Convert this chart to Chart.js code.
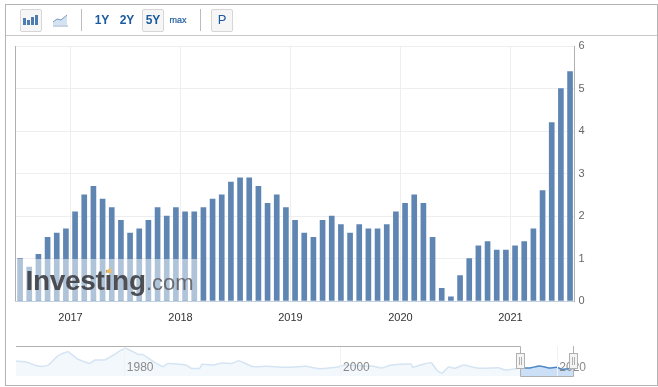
<!DOCTYPE html>
<html><head><meta charset="utf-8">
<script src="https://cdn.jsdelivr.net/npm/chart.js@4"></script>
<style>
html,body{margin:0;padding:0;background:#fff;overflow:hidden;font-family:"Liberation Sans",Arial,sans-serif}
#stage{position:relative;width:658px;height:387px;overflow:hidden}
canvas{position:absolute}
#frame{position:absolute;left:5px;top:4px;width:651px;height:380px;border:1px solid #b4b4b4;box-sizing:content-box}
#tbline{position:absolute;left:6px;top:35px;width:651px;height:1px;background:#c8c8c8}
.btn{position:absolute;top:9px;width:20px;height:21px;background:#f6f6f6;border:1px solid #d6d6d6;border-radius:2px}
.sep{position:absolute;top:9px;width:1px;height:22px;background:#bcbcbc}
.t{position:absolute;color:#1a5a9e;font-weight:bold;font-size:12px;line-height:14px;top:13px;text-align:center;width:22px}
svg{position:absolute}
</style></head><body>
<div id="stage">
<canvas id="main" width="658" height="387" style="left:0;top:0"></canvas>
<canvas id="nav" width="558" height="30" style="left:16px;top:346px"></canvas>
<canvas id="navTop" width="658" height="387" style="left:0;top:0"></canvas>
<div id="frame"></div><div id="tbline"></div>
<div class="btn" style="left:20px"></div>
<svg style="left:23px;top:15px" width="16" height="10"><g fill="#4f7cb0"><rect x="0" y="3" width="3" height="7"/><rect x="4" y="5" width="3" height="5"/><rect x="8" y="2" width="3" height="8"/><rect x="12" y="0" width="3" height="10"/></g></svg>
<svg style="left:52px;top:14px" width="17" height="13"><path d="M1 8 L5 5 L9 6 L15 1 V11 H1Z" fill="#d5e2f0"/><path d="M1 8 L5 5 L9 6 L15 1" fill="none" stroke="#6f97c4"/><path d="M1 12H16" stroke="#8fa9c6"/></svg>
<div class="sep" style="left:81px"></div>
<div class="t" style="left:91px">1Y</div>
<div class="t" style="left:116px">2Y</div>
<div class="btn" style="left:142px"></div>
<div class="t" style="left:142px">5Y</div>
<div class="t" style="left:167px;font-size:9px;font-weight:normal;-webkit-text-stroke:.2px #1a5a9e">max</div>
<div class="sep" style="left:200px"></div>
<div class="btn" style="left:211px"></div>
<div class="t" style="left:211px;font-weight:normal;font-size:13px">P</div>
</div>
<script>
const months = ["2016-07","2016-08","2016-09","2016-10","2016-11","2016-12",
"2017-01","2017-02","2017-03","2017-04","2017-05","2017-06","2017-07","2017-08","2017-09","2017-10","2017-11","2017-12",
"2018-01","2018-02","2018-03","2018-04","2018-05","2018-06","2018-07","2018-08","2018-09","2018-10","2018-11","2018-12",
"2019-01","2019-02","2019-03","2019-04","2019-05","2019-06","2019-07","2019-08","2019-09","2019-10","2019-11","2019-12",
"2020-01","2020-02","2020-03","2020-04","2020-05","2020-06","2020-07","2020-08","2020-09","2020-10","2020-11","2020-12",
"2021-01","2021-02","2021-03","2021-04","2021-05","2021-06","2021-07"];
const values = [1.0,0.8,1.1,1.5,1.6,1.7,2.1,2.5,2.7,2.4,2.2,1.9,1.6,1.7,1.9,2.2,2.0,2.2,2.1,2.1,2.2,2.4,2.5,2.8,2.9,2.9,2.7,2.3,2.5,2.2,1.9,1.6,1.5,1.9,2.0,1.8,1.6,1.8,1.7,1.7,1.8,2.1,2.3,2.5,2.3,1.5,0.3,0.1,0.6,1.0,1.3,1.4,1.2,1.2,1.3,1.4,1.7,2.6,4.2,5.0,5.4];
const yearTicks = [2017,2018,2019,2020,2021];
const valueTicks = [0,1,2,3,4,5,6];
const navYears = [1970,1971,1971.9,1972.5,1973,1973.9,1974.8,1975.7,1976.8,1977.3,1978.2,1979.1,1980.1,1981.3,1981.7,1982.7,1983.6,1984,1985.7,1986.2,1987,1987.2,1988.2,1989.1,1990,1990.6,1991.9,1993.1,1995,1996.8,1998,1999.6,2000.5,2002,2002.9,2003.8,2004.6,2005.5,2006.5,2006.7,2007.5,2008.4,2008.9,2009.4,2010,2010.6,2011.4,2012.5,2013.4,2014.6,2015.2,2016.6];
const navValues = [5.1,4.2,1.7,1.2,2.2,9.1,12,6.6,3.4,5.9,5.9,10,14.5,10,10,4.7,1,3.2,2.2,-0.2,-0.2,2.7,2.2,3.7,3.4,5.4,1,1.2,0.5,1.2,-0.5,0.5,2.2,1.5,1.5,0,2,2.7,2.9,0.5,2.4,3.9,-1.5,-3.9,0.7,-0.2,2.2,0.2,-0.2,0.2,-1.5,0];
const selYears = [2016.6,2017.5,2018.4,2019.3,2020,2020.5,2021.6];
const selValues = [0,0,1.5,0,0.5,-1,0];
const navLabels = [1980,2000,2020];

const toYear = m => { const [y,mo] = m.split("-").map(Number); return y + (mo - 0.5) / 12; };
const FONT = '"Liberation Sans", Arial, sans-serif';

const mainDecor = { id:'mainDecor',
  beforeDatasetsDraw(c){ const a=c.chartArea,x=c.ctx; x.save(); x.strokeStyle='#b0b0b0'; x.lineWidth=1;
    x.beginPath(); x.moveTo(a.left,a.top); x.lineTo(a.left,a.bottom); x.stroke(); x.restore(); },
  afterDatasetsDraw(c){ const x=c.ctx; x.save();
    x.fillStyle='rgba(255,255,255,0.5)'; x.fillRect(16,259,181,41.5);
    x.textBaseline='alphabetic'; x.textAlign='left';
    x.fillStyle='rgba(62,62,66,0.9)'; x.font='bold 28px '+FONT; x.letterSpacing='-0.3px';
    x.fillText('Investing',25.5,289.5);
    x.letterSpacing='0px';
    x.fillStyle='rgba(90,90,95,0.85)'; x.font='22px '+FONT; x.fillText('.com',146,289.5);
    x.fillStyle='#f5b94f'; x.beginPath(); x.moveTo(107,270); x.lineTo(111,268); x.lineTo(111,273); x.lineTo(107,273); x.fill();
    x.restore(); } };

new Chart(document.getElementById('main'),{
  type:'bar',
  data:{datasets:[{data:months.map((m,i)=>({x:toYear(m),y:values[i]})),backgroundColor:'#5f86b3',barThickness:5,borderWidth:0}]},
  options:{responsive:false,animation:false,
    layout:{padding:{left:15.5,right:53.5,top:46,bottom:56}},
    plugins:{legend:{display:false},tooltip:{enabled:false}},
    scales:{
      x:{type:'linear',offset:false,min:2016.5,max:2021.582,
        afterBuildTicks(s){s.ticks=yearTicks.map(value=>({value}));},
        afterFit(s){s.height=30;},
        grid:{color:'#eeeeee',drawTicks:false,offset:false},
        border:{color:'#c2d0e0'},
        ticks:{padding:10,autoSkip:false,maxRotation:0,color:'#333333',font:{family:FONT,size:11},callback:v=>String(v)}},
      y:{position:'right',min:0,max:6,
        afterBuildTicks(s){s.ticks=valueTicks.map(value=>({value}));},
        afterFit(s){s.width=30;},
        grid:{color:'#eeeeee',drawTicks:false},
        border:{color:'#b0b0b0'},
        ticks:{padding:4,color:'#666666',font:{family:FONT,size:11},callback:v=>String(v)}}
    }},
  plugins:[mainDecor]});

const navChart = new Chart(document.getElementById('nav'),{
  type:'line',
  data:{datasets:[
    {data:navYears.map((x,i)=>({x,y:navValues[i]})),borderColor:'#d5e4f3',borderWidth:1.5,pointRadius:0,fill:'start',backgroundColor:'#f3f8fd',tension:0.15},
    {data:selYears.map((x,i)=>({x,y:selValues[i]})),borderColor:'#4a86c5',borderWidth:1.5,pointRadius:0,fill:'start',backgroundColor:'#cbdff6',tension:0.15}
  ]},
  options:{responsive:false,animation:false,
    plugins:{legend:{display:false},tooltip:{enabled:false}},
    scales:{x:{type:'linear',display:false,min:1970,max:2021.6},y:{display:false,min:-5.9,max:16.2}}}
});

(function(){
  const x=document.getElementById('navTop').getContext('2d');
  const sx=navChart.scales.x, L=16;
  const px=v=>L+sx.getPixelForValue(v);
  const sel0=Math.round(px(2016.6))+0.5, sel1=573.5;
  x.strokeStyle='#f2f2f2'; x.lineWidth=1;
  navLabels.forEach(v=>{const p=Math.round(px(v))+0.5; x.beginPath(); x.moveTo(p,346); x.lineTo(p,376); x.stroke();});
  x.fillStyle='#8a8a8a'; x.font='12px '+FONT; x.textAlign='center'; x.textBaseline='middle';
  navLabels.forEach(v=>{x.fillText(String(v),px(v)+16,368);});
  x.strokeStyle='#b0b0b0';
  x.beginPath(); x.moveTo(16,346.5); x.lineTo(sel0,346.5); x.lineTo(sel0,376.5); x.lineTo(sel1,376.5); x.lineTo(sel1,346); x.stroke();
  [sel0,sel1].forEach(p=>{
    x.fillStyle='#f4f4f4'; x.fillRect(p-4,353.5,8,15); x.strokeRect(p-4,353.5,8,15);
    x.beginPath(); x.moveTo(p-1,357); x.lineTo(p-1,365); x.moveTo(p+1,357); x.lineTo(p+1,365); x.stroke();
  });
})();
</script>
</body></html>
